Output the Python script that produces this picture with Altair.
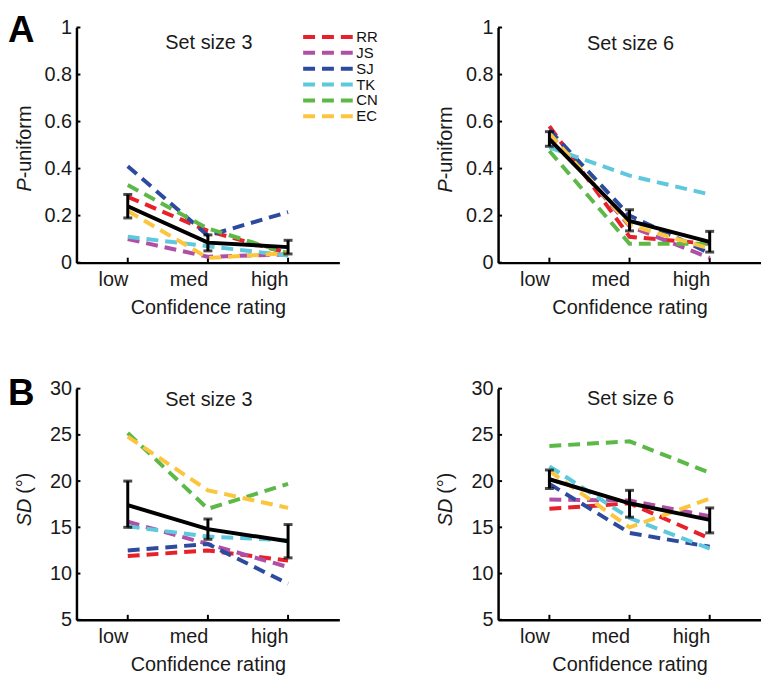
import altair as alt
import pandas as pd

levels = ["low", "med", "high"]
subjects = ["RR", "JS", "SJ", "TK", "CN", "EC"]
colors = ["#e8202a", "#b04fa6", "#2c4b9e", "#5ec8dc", "#5cb847", "#fbc63d"]

# P-uniform, set size 3
pu3 = {
    "RR": [0.28, 0.135, 0.04],
    "JS": [0.10, 0.025, 0.035],
    "SJ": [0.41, 0.115, 0.215],
    "TK": [0.11, 0.07, 0.03],
    "CN": [0.33, 0.145, 0.04],
    "EC": [0.22, 0.02, 0.04],
}
pu3_mean = [0.24, 0.085, 0.066]
pu3_lo = [0.19, 0.05, 0.037]
pu3_hi = [0.29, 0.118, 0.095]

# P-uniform, set size 6
pu6 = {
    "RR": [0.58, 0.11, 0.08],
    "JS": [0.55, 0.155, 0.02],
    "SJ": [0.565, 0.20, 0.04],
    "TK": [0.49, 0.37, 0.29],
    "CN": [0.475, 0.08, 0.08],
    "EC": [0.55, 0.16, 0.06],
}
pu6_mean = [0.525, 0.177, 0.088]
pu6_lo = [0.495, 0.135, 0.045]
pu6_hi = [0.557, 0.225, 0.133]

# SD, set size 3
sd3 = {
    "RR": [11.9, 12.5, 11.4],
    "JS": [15.6, 13.2, 10.7],
    "SJ": [12.5, 13.2, 8.9],
    "TK": [15.1, 14.0, 13.6],
    "CN": [25.2, 17.0, 19.7],
    "EC": [24.8, 19.0, 17.1],
}
sd3_mean = [17.4, 14.8, 13.5]
sd3_lo = [15.0, 13.7, 11.7]
sd3_hi = [20.0, 15.9, 15.3]

# SD, set size 6
sd6 = {
    "RR": [17.0, 17.6, 13.8],
    "JS": [18.0, 17.9, 16.2],
    "SJ": [19.7, 14.4, 12.9],
    "TK": [21.6, 16.0, 12.7],
    "CN": [23.8, 24.3, 20.9],
    "EC": [21.1, 15.0, 18.1],
}
sd6_mean = [20.2, 17.6, 15.8]
sd6_lo = [19.2, 16.1, 14.4]
sd6_hi = [21.2, 19.0, 17.1]

pu_ticks = [0, 0.2, 0.4, 0.6, 0.8, 1]
sd_ticks = [5, 10, 15, 20, 25, 30]

FONT = "Liberation Sans"
W = 265


def panel(vals, mean, lo, hi, ydom, yticks, yfmt, title, yt_it, yt_rest,
          h, title_y, yt_y0, yt_gap, letter=None, letter_y=0, legend=False):
    rows = []
    for s in subjects:
        for i, c in enumerate(levels):
            rows.append({"subject": s, "conf": c, "value": vals[s][i], "o": i})
    df = pd.DataFrame(rows)
    mdf = pd.DataFrame({"conf": levels, "mean": mean, "lo": lo, "hi": hi, "o": [0, 1, 2]})

    xscale = alt.Scale(type="point", padding=0.64)
    yscale = alt.Scale(domain=ydom, nice=False, zero=False)
    X = alt.X("conf:N", sort=levels, scale=xscale,
              axis=alt.Axis(title="Confidence rating", labelAngle=0, ticks=False,
                            labelFontSize=20, titleFontSize=20, labelPadding=7,
                            labelBaseline="top",
                            titlePadding=8, titleFontWeight="normal",
                            domainColor="black", domainWidth=2.5,
                            labelColor="#1a1a1a", titleColor="#1a1a1a",
                            labelFont=FONT, titleFont=FONT))
    Xn = alt.X("conf:N", sort=levels, scale=xscale)

    leg = None
    if legend:
        leg = alt.Legend(orient="none", legendX=246, legendY=2, title=None,
                         symbolType="M-5,0H5", symbolSize=100, symbolStrokeWidth=4,
                         symbolDash=[12, 7], labelFontSize=15, labelOffset=21,
                         rowPadding=-1, labelColor="#111111", padding=0,
                         labelFont=FONT)

    lines = alt.Chart(df).mark_line(strokeDash=[12, 7], strokeWidth=4, strokeCap="butt").encode(
        x=X,
        y=alt.Y("value:Q", scale=yscale,
                axis=alt.Axis(values=yticks, format=yfmt, title=None, ticks=False, grid=False,
                              labelFontSize=20, labelPadding=5, domainColor="black",
                              domainWidth=2.5, labelColor="#1a1a1a", labelFont=FONT)),
        color=alt.Color("subject:N", sort=subjects,
                        scale=alt.Scale(domain=subjects, range=colors), legend=leg),
        order="o:Q",
    )
    mline = alt.Chart(mdf).mark_line(color="black", strokeWidth=4).encode(
        x=Xn, y=alt.Y("mean:Q", scale=yscale), order="o:Q")
    ebar = alt.Chart(mdf).mark_rule(color="black", strokeWidth=3).encode(
        x=Xn, y=alt.Y("lo:Q", scale=yscale), y2="hi:Q")
    cap_lo = alt.Chart(mdf).mark_tick(color="black", thickness=3, size=9, orient="horizontal").encode(
        x=Xn, y=alt.Y("lo:Q", scale=yscale))
    cap_hi = alt.Chart(mdf).mark_tick(color="black", thickness=3, size=9, orient="horizontal").encode(
        x=Xn, y=alt.Y("hi:Q", scale=yscale))

    xt = alt.Chart(pd.DataFrame({"conf": levels})).mark_rule(color="black", strokeWidth=2).encode(
        x=Xn, y=alt.value(h), y2=alt.value(h - 5))
    yt = alt.Chart(pd.DataFrame({"v": yticks})).mark_rule(color="black", strokeWidth=2).encode(
        y=alt.Y("v:Q", scale=yscale), x=alt.value(0), x2=alt.value(4))

    one = pd.DataFrame({"a": [0]})
    ttl = alt.Chart(one).mark_text(fontSize=20, font=FONT, align="center", baseline="alphabetic",
                                   color="#1a1a1a").encode(
        x=alt.value(W / 2 + 1), y=alt.value(title_y), text=alt.value(title))
    yt1 = alt.Chart(one).mark_text(fontSize=20, font=FONT, fontStyle="italic", angle=270,
                                   align="right", baseline="alphabetic", color="#1a1a1a").encode(
        x=alt.value(-46), y=alt.value(yt_y0), text=alt.value(yt_it))
    yt2 = alt.Chart(one).mark_text(fontSize=20, font=FONT, angle=270,
                                   align="left", baseline="alphabetic", color="#1a1a1a").encode(
        x=alt.value(-46), y=alt.value(yt_y0 - yt_gap), text=alt.value(yt_rest))

    layers = [xt, yt, lines, mline, ebar, cap_lo, cap_hi, ttl, yt1, yt2]
    if letter:
        lab = alt.Chart(one).mark_text(fontSize=37, font=FONT, fontWeight="bold", align="left",
                                       baseline="alphabetic", color="black").encode(
            x=alt.value(-69), y=alt.value(letter_y), text=alt.value(letter))
        layers.append(lab)
        # invisible spacer fixing the top edge of the drawing
        spacer = alt.Chart(one).mark_rule(strokeWidth=1, opacity=0, color="white").encode(
            x=alt.value(0), x2=alt.value(1), y=alt.value(-16.5), y2=alt.value(-16.5))
        layers.append(spacer)
    return alt.layer(*layers).properties(width=W, height=h)


p1 = panel(pu3, pu3_mean, pu3_lo, pu3_hi, [0, 1], pu_ticks, ".1~f", "Set size 3",
           "P", "-uniform", 237, 22, 152, 0, letter="A", letter_y=15, legend=True)
p2 = panel(pu6, pu6_mean, pu6_lo, pu6_hi, [0, 1], pu_ticks, ".1~f", "Set size 6",
           "P", "-uniform", 237, 23, 153, 0)
p3 = panel(sd3, sd3_mean, sd3_lo, sd3_hi, [5, 30], sd_ticks, "d", "Set size 3",
           "SD", "(°)", 233, 18, 111, 5, letter="B", letter_y=16)
p4 = panel(sd6, sd6_mean, sd6_lo, sd6_hi, [5, 30], sd_ticks, "d", "Set size 6",
           "SD", "(°)", 233, 17, 111, 5)

chart = alt.concat(
    p1, p2, p3, p4, columns=2,
    spacing=alt.RowColnumber(row=127, column=160),
    bounds="flush",
).resolve_scale(color="independent").properties(
    padding=0, background="white"
).configure_view(strokeWidth=0).configure_axis(grid=False)

chart.save("out.html", embed_options={"renderer": "svg", "actions": False})
